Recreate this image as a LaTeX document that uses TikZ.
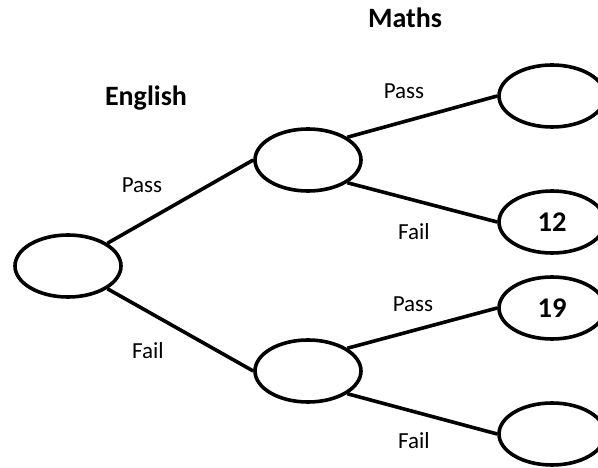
\documentclass[tikz,border=0pt]{standalone}
\usepackage{fontspec}
\setmainfont{Carlito}
\usetikzlibrary{shapes.geometric}

\begin{document}
\begin{tikzpicture}[x=1pt, y=-1pt, line width=3.6pt,
    outcome/.style={ellipse, draw, minimum width=106pt, minimum height=62pt, inner sep=0pt, font=\fontsize{28.5}{32}\selectfont\bfseries},
    branch/.style={font=\fontsize{23}{27}\selectfont, anchor=base},
    heading/.style={font=\fontsize{28}{32}\selectfont\bfseries, anchor=base}]
  \useasboundingbox (0,0) rectangle (598,468);
  % tree nodes
  \node[outcome] (root) at (68,266) {};
  \node[outcome] (engpass) at (308,160) {};
  \node[outcome] (engfail) at (308,371) {};
  \node[outcome] (pp) at (552,96) {};
  \node[outcome] (pf) at (552,222) {12};
  \node[outcome] (fp) at (552,308) {19};
  \node[outcome] (ff) at (552,434) {};
  % branches
  \draw (root.30) -- (engpass.west);
  \draw (root.-30) -- (engfail.west);
  \draw (engpass.30) -- (pp.west);
  \draw (engpass.-30) -- (pf.west);
  \draw (engfail.30) -- (fp.west);
  \draw (engfail.-30) -- (ff.west);
  % labels
  \node[heading] (maths) at (405,28) {Maths};
  \node[heading] (english) at (146,106) {English};
  \node[branch] (lpass) at (142,193) {Pass};
  \node[branch] (lfail) at (148,358) {Fail};
  \node[branch] (ppass) at (404,99) {Pass};
  \node[branch] (pfail) at (414,240) {Fail};
  \node[branch] (fpass) at (413,312) {Pass};
  \node[branch] (ffail) at (414,448) {Fail};
\end{tikzpicture}
\end{document}
